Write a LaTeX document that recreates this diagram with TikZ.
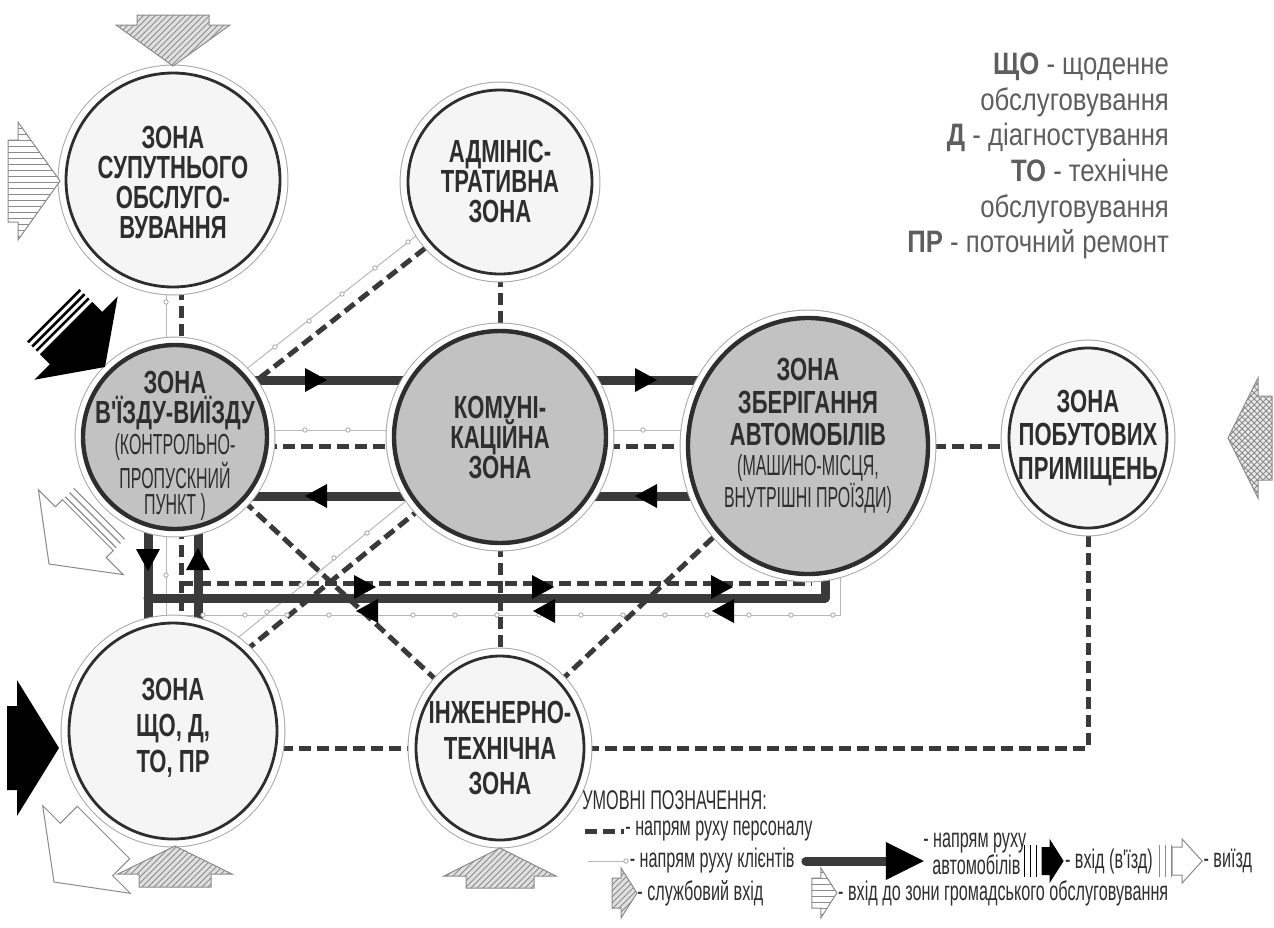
\documentclass[tikz,border=0pt]{standalone}
\usepackage{fontspec}
\setmainfont{Liberation Sans}
\newfontfamily\zonefont[FakeStretch=0.69]{Liberation Sans}
\newfontfamily\subfont[FakeStretch=0.55]{Liberation Sans}
\newfontfamily\notefont[FakeStretch=0.83]{Liberation Sans}
\newfontfamily\legfont[FakeStretch=0.6]{Liberation Sans}
\usetikzlibrary{shapes.geometric}
\usetikzlibrary{patterns}

\definecolor{ink}{HTML}{2E2E2E}
\definecolor{lanegray}{HTML}{3A3A3A}
\definecolor{zonegray}{HTML}{C2C2C2}
\definecolor{zonelight}{HTML}{F5F5F5}
\definecolor{ringlight}{HTML}{A8A8A8}
\definecolor{clientgray}{HTML}{B8B8B8}
\definecolor{notegray}{HTML}{5E5E5E}
\definecolor{hatchgray}{HTML}{8A8A8A}

\pgfdeclarelayer{bg}
\pgfsetlayers{bg,main}

% block arrow: style, tip, angle, head length, head half width, body length, body half width
\newcommand{\blockarrow}[7]{%
  \path[#1, shift={(#2)}, rotate=#3] (0,0) -- (-#4,#5) -- (-#4,#7) -- (-#4-#6,#7)
    -- (-#4-#6,-#7) -- (-#4,-#7) -- (-#4,-#5) -- cycle;}
% three bars behind an arrow: style, tip, angle, distance, half width
\newcommand{\tailstripes}[5]{%
  \foreach \k in {0,6,12} {\draw[#1, shift={(#2)}, rotate=#3] (-#4-\k,#5) -- (-#4-\k,-#5);}}
% small black triangle on a lane
\newcommand{\lanetip}[3]{%
  \fill[black, shift={(#1,#2)}, rotate=#3] (11,0) -- (-11,12) -- (-11,-12) -- cycle;}

\tikzset{
  zone/.style={ellipse, draw=ink, line width=1.4pt, fill=zonelight, inner sep=0pt,
    preaction={draw=ringlight, line width=8.4pt},
    preaction={draw=white, line width=7.4pt}},
  carzone/.style={zone, fill=zonegray, line width=2.2pt},
  ztext/.style={align=center, text=ink, inner sep=0pt, font=\zonefont\bfseries\fontsize{16}{15}\selectfont},
  zsub/.style={align=center, text=ink, inner sep=0pt, font=\subfont\fontsize{14.5}{13}\selectfont},
  lane/.style={draw=lanegray, line width=4.5pt, line cap=round},
  staff/.style={draw=lanegray, line width=2.5pt, dash pattern=on 6pt off 3pt},
  client/.style={draw=clientgray, line width=0.5pt},
  cdot/.style={draw=ringlight, fill=white, line width=0.4pt},
  svc/.style={draw=hatchgray, line width=0.5pt, preaction={fill=black!12},
    pattern=north east lines, pattern color=hatchgray},
  pub/.style={draw=hatchgray, line width=0.5pt, fill=white,
    postaction={pattern=horizontal lines, pattern color=hatchgray}},
  legtext/.style={anchor=west, text=ink, inner sep=0.5pt, font=\legfont\fontsize{13.5}{13}\selectfont}
}

\begin{document}
\begin{tikzpicture}[x=0.5pt, y=-0.5pt]
    \useasboundingbox (0,0) rectangle (1274,927);

    % Zones
    \node[zone, minimum size=107pt] (sup) at (173,180) {};
    \node[zone, minimum size=92pt] (adm) at (500,182) {};
    \node[carzone, minimum size=92pt] (entry) at (175,437) {};
    \node[carzone, minimum size=106pt] (comm) at (500,437) {};
    \node[carzone, minimum width=120pt, minimum height=128pt] (stor) at (808,446) {};
    \node[zone, minimum width=79pt, minimum height=90pt] (pob) at (1088,438) {};
    \node[zone, minimum width=104pt, minimum height=108pt] (sto) at (173,731) {};
    \node[zone, minimum width=84pt, minimum height=92pt] (eng) at (500,748) {};

    % Zone names
    \node[ztext] (sup-t) at (173,182) {ЗОНА\\СУПУТНЬОГО\\ОБСЛУГО-\\ВУВАННЯ};
    \node[ztext] (adm-t) at (500,181) {АДМІНІС-\\ТРАТИВНА\\ЗОНА};
    \node[ztext] (entry-t) at (175,401) {ЗОНА\\В'ЇЗДУ-ВИЇЗДУ};
    \node[zsub] (entry-s) at (175,477) {(КОНТРОЛЬНО-\\ПРОПУСКНИЙ\\ПУНКТ )};
    \node[ztext] (comm-t) at (500,437) {КОМУНІ-\\КАЦІЙНА\\ЗОНА};
    \node[ztext, font=\zonefont\bfseries\fontsize{16}{16.4}\selectfont] (stor-t) at (808,402) {ЗОНА\\ЗБЕРІГАННЯ\\АВТОМОБІЛІВ};
    \node[zsub] (stor-s) at (808,484) {(МАШИНО-МІСЦЯ,\\ВНУТРІШНІ ПРОЇЗДИ)};
    \node[ztext, font=\zonefont\bfseries\fontsize{16}{16.6}\selectfont] (pob-t) at (1088,438) {ЗОНА\\ПОБУТОВИХ\\ПРИМІЩЕНЬ};
    \node[ztext, font=\zonefont\bfseries\fontsize{16}{18}\selectfont] (sto-t) at (173,728) {ЗОНА\\ЩО, Д,\\ТО, ПР};
    \node[ztext, font=\zonefont\bfseries\fontsize{16}{17.8}\selectfont] (eng-t) at (500,748) {ІНЖЕНЕРНО-\\ТЕХНІЧНА\\ЗОНА};

    % Lane levels
    \coordinate (uplane) at (0,380);
    \coordinate (dnlane) at (0,496);
    \coordinate (clane) at (0,430);
    \coordinate (slane) at (0,446);
    \coordinate (elane) at (0,748);
    \coordinate (blane) at (0,598);
    \coordinate (bcl) at (0,615);
    \coordinate (lx) at (148,0);
    \coordinate (cx) at (166,0);
    \coordinate (dx) at (181,0);
    \coordinate (rx) at (198,0);
    \coordinate (bx) at (825,0);
    \coordinate (bcx) at (840,0);
    \coordinate (bdend) at (812,583);

    \begin{pgfonlayer}{bg}
        % clients
        \draw[client] (cx |- sup) -- (cx |- entry);
        \draw[client] (cx |- entry) -- (cx |- sto);
        \draw[client] (entry |- clane) -- (comm |- clane);
        \draw[client] (comm |- clane) -- (stor |- clane);
        \draw[client] ([yshift=6pt]entry.center) -- ([yshift=6pt]adm.center);
        \draw[client] (sto.56) -- (comm.214);
        \draw[client] (cx |- bcl) -- (bcx |- bcl) -- (bcx |- stor);

        % staff
        \draw[staff] (dx |- sup) -- (dx |- entry);
        \draw[staff] (dx |- entry) -- (dx |- sto);
        \draw[staff] (dx |- bdend) -- (bdend);
        \draw[staff] (entry |- slane) -- (comm |- slane);
        \draw[staff] (comm |- slane) -- (stor |- slane);
        \draw[staff] (stor |- slane) -- (pob |- slane);
        \draw[staff] (adm) -- (comm);
        \draw[staff] (comm) -- (eng);
        \draw[staff] ([yshift=-3.75pt]entry.center) -- ([yshift=-3.75pt]adm.center);
        \draw[staff] (entry.-43) -- (eng.133);
        \draw[staff] (sto.48) -- (comm.222);
        \draw[staff] (eng.48) -- (stor.224);
        \draw[staff] (sto |- elane) -- (pob |- elane) -- (pob);

        % vehicles
        \draw[lane] (entry |- uplane) -- (comm |- uplane);
        \draw[lane] (entry |- dnlane) -- (comm |- dnlane);
        \draw[lane] (comm |- uplane) -- (stor |- uplane);
        \draw[lane] (comm |- dnlane) -- (stor |- dnlane);
        \draw[lane] (lx |- entry) -- (lx |- sto);
        \draw[lane] (rx |- entry) -- (rx |- sto);
        \draw[lane, line join=round] (lx |- blane) -- (bx |- blane) -- (bx |- stor);

        % client marks
        \draw[cdot] (166,302) circle (1.1pt);
        \draw[cdot] (166,575) circle (1.1pt);
        \foreach \x in {305,348,643} \draw[cdot] (\x,430) circle (1.1pt);
        \foreach \p in {(275,347),(309,321),(342,294),(375,268),(408,242)} \draw[cdot] \p circle (1.1pt);
        \foreach \p in {(267,612),(301,585),(334,558),(367,533)} \draw[cdot] \p circle (1.1pt);
        \foreach \k in {0,...,15} \draw[cdot] (203+42*\k,615) circle (1.1pt);
    \end{pgfonlayer}

    % Lane directions
    \lanetip{316}{380}{0}
    \lanetip{316}{496}{180}
    \lanetip{646}{380}{0}
    \lanetip{646}{496}{180}
    \lanetip{148}{560}{-90}
    \lanetip{198}{559}{90}
    \foreach \x in {365,543,722} {\lanetip{\x}{587}{0}}
    \foreach \x in {367,544,723} {\lanetip{\x}{611}{180}}

    % Entrances and exits
    \blockarrow{svc}{173,66}{-90}{41}{57}{10}{36}
    \blockarrow{pub}{60,181}{0}{42}{59}{10}{41}
    \blockarrow{fill=black}{105,367}{-45}{41}{59}{14}{37}
    \tailstripes{line width=1.3pt}{105,367}{-45}{60}{37}
    \blockarrow{draw=hatchgray, fill=white, line width=0.5pt}{49,564}{-135}{45}{60}{10}{36}
    \tailstripes{hatchgray, line width=0.6pt}{49,564}{-135}{59}{36}
    \blockarrow{fill=black}{59,748}{0}{42}{68}{10}{42}
    \blockarrow{draw=hatchgray, fill=white, line width=0.5pt}{54,882}{-135}{46}{62}{24}{37}
    \blockarrow{svc}{175,846}{90}{28}{57}{13}{36}
    \blockarrow{svc}{500,848}{90}{28}{56}{12}{34}
    \blockarrow{draw=hatchgray, line width=0.5pt, fill=black!8, postaction={pattern=crosshatch, pattern color=hatchgray}}{1228,438}{180}{30}{60}{14}{42}

    % Abbreviations
    \node[anchor=north east, align=right, text=notegray, font=\notefont\fontsize{15.5}{17.8}\selectfont] (abbr) at (1176,46)
        {\textbf{ЩО} - щоденне\\обслуговування\\\textbf{Д} - діагностування\\\textbf{ТО} - технічне\\обслуговування\\\textbf{ПР} - поточний ремонт};

    % Legend
    \node[legtext] (leg-title) at (581,800) {УМОВНІ ПОЗНАЧЕННЯ:};
    \draw[staff] (585,831) -- (624,831);
    \node[legtext] (leg-staff) at (624,831) {- напрям руху персоналу};
    \coordinate (leg-c0) at (588,861);
    \draw[client] (leg-c0) -- ++(38,0) coordinate (leg-c1);
    \draw[cdot] (leg-c1) circle (1.1pt);
    \node[legtext] (leg-client) at ([xshift=1.2pt]leg-c1) {- напрям руху клієнтів};
    \draw[lane] ([xshift=5pt]leg-client.east) -- ++(80,0) coordinate (leg-bar);
    \fill[black] (leg-bar) ++(0,-19) -- ++(38,19) -- ++(-38,19) -- cycle;
    \node[legtext, align=left, font=\legfont\fontsize{13.5}{11.5}\selectfont] (leg-car) at ([xshift=18pt, yshift=3.5pt]leg-bar) {- напрям руху\\\ \,автомобілів};
    \coordinate (leg-in-tip) at ([xshift=18pt, yshift=-3.5pt]leg-car.east);
    \tailstripes{line width=0.6pt}{leg-in-tip}{0}{27}{16}
    \blockarrow{fill=black}{leg-in-tip}{0}{14}{22}{8}{14}
    \node[legtext] (leg-in) at (leg-in-tip) {- вхід (в'їзд)};
    \coordinate (leg-out-tip) at ([xshift=24pt]leg-in.east);
    \tailstripes{hatchgray, line width=0.6pt}{leg-out-tip}{0}{31}{16}
    \blockarrow{draw=hatchgray, fill=white, line width=0.5pt}{leg-out-tip}{0}{20}{22}{10}{14}
    \node[legtext] (leg-out) at (leg-out-tip) {- виїзд};
    \blockarrow{svc}{637,893}{0}{16}{25}{9}{15}
    \node[legtext] (leg-svc) at (636,893) {- службовий вхід};
    \coordinate (leg-pub-tip) at ([xshift=36pt]leg-svc.east);
    \blockarrow{pub}{leg-pub-tip}{0}{16}{25}{9}{15}
    \node[legtext] (leg-pub) at (leg-pub-tip) {- вхід до зони громадського обслуговування};

\end{tikzpicture}
\end{document}
